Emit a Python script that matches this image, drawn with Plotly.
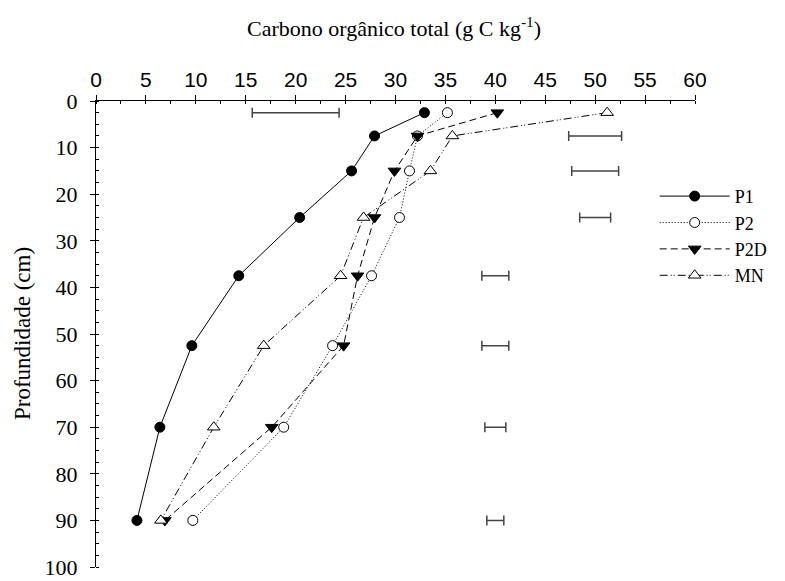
import plotly.graph_objects as go

# Soil depth (cm) of each sampled layer midpoint
depth = [2.5, 7.5, 15, 25, 37.5, 52.5, 70, 90]

# Total organic carbon (g C kg-1) per management system
p1 = [32.9, 27.9, 25.6, 20.4, 14.3, 9.6, 6.4, 4.1]
p2 = [35.2, 32.2, 31.4, 30.4, 27.6, 23.7, 18.8, 9.7]
p2d = [40.2, 32.2, 29.9, 27.9, 26.2, 24.8, 17.6, 6.9]
mn = [51.2, 35.7, 33.5, 26.8, 24.5, 16.8, 11.8, 6.5]

# Least significant difference bars: centre and half-width per layer
lsd_center = [20, 50, 50, 50, 40, 40, 40, 40]
lsd_half = [4.35, 2.65, 2.35, 1.55, 1.35, 1.35, 1.05, 0.85]

series = [
    ("P1", p1, "solid", "circle", "black"),
    ("P2", p2, "1px,2px", "circle", "white"),
    ("P2D", p2d, "7px,4px", "triangle-down", "black"),
    ("MN", mn, "8px,3px,1px,2px,1px,3px", "triangle-up", "white"),
]

serif = "Liberation Serif, Times New Roman, serif"
sans = "Liberation Sans, Arial, sans-serif"

fig = go.Figure()

fig.add_trace(go.Scatter(
    x=lsd_center, y=depth, mode="markers",
    marker=dict(size=1, color="rgba(0,0,0,0)"),
    error_x=dict(type="data", array=lsd_half, symmetric=True,
                 color="#444444", thickness=1.5, width=5),
    showlegend=False, hoverinfo="skip",
))

for name, vals, dash, sym, fill in series:
    fig.add_trace(go.Scatter(
        x=vals, y=depth, name=name, mode="lines+markers",
        line=dict(color="black", width=1, dash=dash),
        marker=dict(symbol=sym, size=11 if "triangle" in sym else 10,
                    color=fill, line=dict(color="black", width=1)),
    ))

fig.update_layout(
    width=785, height=581,
    margin=dict(l=96, r=80, t=101, b=14),
    paper_bgcolor="white", plot_bgcolor="white",
    font=dict(family=serif, size=20, color="black"),
    showlegend=True,
    legend=dict(
        x=0.9327, y=0.835, xanchor="left", yanchor="top",
        font=dict(family=serif, size=18, color="black"),
        itemwidth=70, bgcolor="rgba(0,0,0,0)", tracegroupgap=0,
    ),
    xaxis=dict(
        range=[0, 60], side="top", dtick=5, tick0=0, automargin=False,
        showline=True, linecolor="black", linewidth=1,
        ticks="outside", ticklen=5, tickcolor="black", tickwidth=1,
        minor=dict(dtick=2.5, ticks="inside", ticklen=3, tickcolor="black"),
        showgrid=False, zeroline=False, ticklabeloverflow="allow",
        tickfont=dict(family=sans, size=21, color="black"),
    ),
    yaxis=dict(
        range=[100, 0], dtick=10, tick0=0, automargin=False,
        showline=True, linecolor="black", linewidth=1,
        ticks="outside", ticklen=5, tickcolor="black", tickwidth=1,
        minor=dict(dtick=2.5, ticks="inside", ticklen=3, tickcolor="black"),
        showgrid=False, zeroline=False, ticklabelstandoff=8,
        ticklabeloverflow="allow",
        tickfont=dict(family=serif, size=22, color="black"),
    ),
    annotations=[
        dict(text="Carbono orgânico total (g C kg<sup>-1</sup>)",
             xref="paper", yref="paper", x=0.497, y=1, yshift=74,
             xanchor="center", yanchor="middle", showarrow=False,
             font=dict(family=serif, size=22, color="black")),
        dict(text="Profundidade (cm)", textangle=-90,
             xref="paper", yref="paper", x=0, y=0.5, xshift=-74,
             xanchor="center", yanchor="middle", showarrow=False,
             font=dict(family=serif, size=23, color="black")),
    ],
)

fig.write_html("out.html")
